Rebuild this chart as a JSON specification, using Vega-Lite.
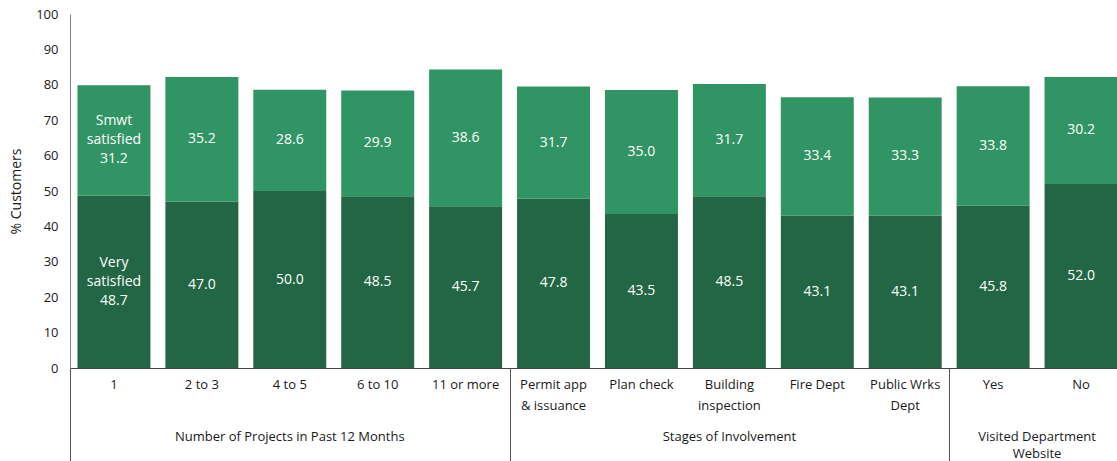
{
  "$schema": "https://vega.github.io/schema/vega-lite/v6.json",
  "width": 1055,
  "height": 354,
  "autosize": {"type": "none"},
  "padding": {"left": 70, "top": 14, "right": -8, "bottom": 93},
  "config": {
    "view": {"stroke": null},
    "font": "Open Sans",
    "text": {"font": "Open Sans"}
  },
  "datasets": {
    "bars": [
      {"cat": "1", "level": "Very satisfied", "pct": 48.7},
      {"cat": "1", "level": "Smwt satisfied", "pct": 31.2},
      {"cat": "2 to 3", "level": "Very satisfied", "pct": 47.0},
      {"cat": "2 to 3", "level": "Smwt satisfied", "pct": 35.2},
      {"cat": "4 to 5", "level": "Very satisfied", "pct": 50.0},
      {"cat": "4 to 5", "level": "Smwt satisfied", "pct": 28.6},
      {"cat": "6 to 10", "level": "Very satisfied", "pct": 48.5},
      {"cat": "6 to 10", "level": "Smwt satisfied", "pct": 29.9},
      {"cat": "11 or more", "level": "Very satisfied", "pct": 45.7},
      {"cat": "11 or more", "level": "Smwt satisfied", "pct": 38.6},
      {"cat": "Permit app & issuance", "level": "Very satisfied", "pct": 47.8},
      {"cat": "Permit app & issuance", "level": "Smwt satisfied", "pct": 31.7},
      {"cat": "Plan check", "level": "Very satisfied", "pct": 43.5},
      {"cat": "Plan check", "level": "Smwt satisfied", "pct": 35.0},
      {"cat": "Building inspection", "level": "Very satisfied", "pct": 48.5},
      {"cat": "Building inspection", "level": "Smwt satisfied", "pct": 31.7},
      {"cat": "Fire Dept", "level": "Very satisfied", "pct": 43.1},
      {"cat": "Fire Dept", "level": "Smwt satisfied", "pct": 33.4},
      {"cat": "Public Wrks Dept", "level": "Very satisfied", "pct": 43.1},
      {"cat": "Public Wrks Dept", "level": "Smwt satisfied", "pct": 33.3},
      {"cat": "Yes", "level": "Very satisfied", "pct": 45.8},
      {"cat": "Yes", "level": "Smwt satisfied", "pct": 33.8},
      {"cat": "No", "level": "Very satisfied", "pct": 52.0},
      {"cat": "No", "level": "Smwt satisfied", "pct": 30.2}
    ],
    "groups": [
      {"group": "Number of Projects in Past 12 Months", "from": 0, "to": 5},
      {"group": "Stages of Involvement", "from": 5, "to": 10},
      {"group": "Visited Department\nWebsite", "from": 10, "to": 12}
    ]
  },
  "resolve": {"scale": {"x": "independent", "y": "independent"}, "axis": {"x": "independent", "y": "independent"}},
  "layer": [
    {
      "data": {"name": "bars"},
      "transform": [
        {"calculate": "datum.level === 'Very satisfied' ? 0 : 1", "as": "lvl"},
        {"stack": "pct", "groupby": ["cat"], "sort": [{"field": "lvl", "order": "ascending"}], "as": ["y0", "y1"]},
        {"calculate": "(datum.y0 + datum.y1) / 2", "as": "ymid"},
        {"calculate": "datum.cat === '1' ? (datum.level === 'Very satisfied' ? 'Very\\nsatisfied\\n' : 'Smwt\\nsatisfied\\n') + format(datum.pct, '.1f') : format(datum.pct, '.1f')", "as": "lbl"}
      ],
      "encoding": {
        "x": {
          "field": "cat",
          "type": "nominal",
          "sort": ["1", "2 to 3", "4 to 5", "6 to 10", "11 or more", "Permit app & issuance", "Plan check", "Building inspection", "Fire Dept", "Public Wrks Dept", "Yes", "No"],
          "scale": {"paddingInner": 0.17, "paddingOuter": 0.085},
          "axis": {
            "title": null,
            "orient": "bottom",
            "ticks": false,
            "domainColor": "#444444",
            "domainWidth": 1,
            "labelAngle": 0,
            "labelFontSize": 13,
            "labelColor": "#1a1a1a",
            "labelPadding": 10,
            "labelLineHeight": 21,
            "labelExpr": "datum.label === 'Permit app & issuance' ? ['Permit app', '& issuance'] : datum.label === 'Building inspection' ? ['Building', 'inspection'] : datum.label === 'Public Wrks Dept' ? ['Public Wrks', 'Dept'] : datum.label"
          }
        }
      },
      "layer": [
        {
          "mark": {"type": "bar"},
          "encoding": {
            "y": {
              "field": "y0",
              "type": "quantitative",
              "scale": {"domain": [0, 100], "nice": false},
              "axis": {
                "title": "% Customers",
                "orient": "left",
                "tickCount": 10,
                "ticks": false,
                "grid": false,
                "domainColor": "#808080",
                "labelFontSize": 13,
                "labelColor": "#1a1a1a",
                "labelPadding": 12,
                "labelOverlap": false,
                "labelFlush": false,
                "titleFontSize": 14,
                "titleFontWeight": "normal",
                "titleColor": "#1a1a1a",
                "titlePadding": 12
              }
            },
            "y2": {"field": "y1"},
            "color": {
              "field": "level",
              "type": "nominal",
              "scale": {"domain": ["Very satisfied", "Smwt satisfied"], "range": ["#226645", "#319464"]},
              "legend": null
            }
          }
        },
        {
          "transform": [{"filter": "datum.cat !== '1'"}],
          "mark": {"type": "text", "color": "white", "fontSize": 14, "baseline": "middle"},
          "encoding": {
            "y": {"field": "ymid", "type": "quantitative"},
            "text": {"field": "lbl"}
          }
        },
        {
          "transform": [{"filter": "datum.cat === '1'"}],
          "mark": {"type": "text", "color": "white", "fontSize": 14, "lineBreak": "\n", "lineHeight": 19, "baseline": "middle", "dy": -19},
          "encoding": {
            "y": {"field": "ymid", "type": "quantitative"},
            "text": {"field": "lbl"}
          }
        }
      ]
    },
    {
      "data": {"name": "groups"},
      "transform": [
        {"calculate": "(datum.from + datum.to) / 2", "as": "mid"}
      ],
      "mark": {"type": "text", "fontSize": 13, "color": "#1a1a1a", "lineBreak": "\n", "lineHeight": 17, "baseline": "top", "align": "center"},
      "encoding": {
        "x": {
          "field": "mid",
          "type": "quantitative",
          "scale": {"domain": [0, 12], "nice": false, "zero": false},
          "axis": {
            "orient": "bottom",
            "title": null,
            "values": [0, 5, 10],
            "labels": false,
            "domain": false,
            "grid": false,
            "tickSize": 93,
            "tickColor": "#555555",
            "tickWidth": 1
          }
        },
        "y": {"datum": -17.7, "type": "quantitative", "scale": {"domain": [0, 100], "nice": false}, "axis": null},
        "text": {"field": "group"}
      }
    }
  ]
}
